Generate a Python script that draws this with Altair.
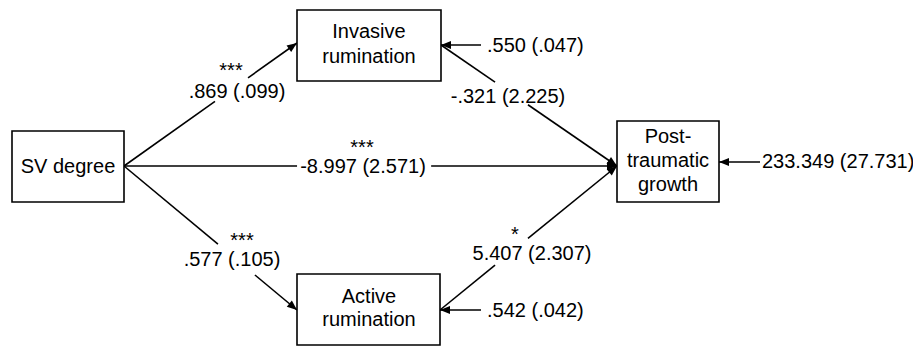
import math
import altair as alt
import pandas as pd

# ---- Boxes (pixel positions measured on the reference picture) ----
box_names = ["SV degree", "Invasive rumination", "Active rumination", "Post-traumatic growth"]
box_x1 = [12, 297, 297, 617]
box_x2 = [124, 441, 440, 719]
box_y1 = [131, 10, 274, 121]
box_y2 = [202, 81, 345, 202]

# Box label lines
label_text = ["SV degree", "Invasive", "rumination", "Active", "rumination", "Post-", "traumatic", "growth"]
label_x = [68, 369, 369, 369, 369, 668, 668, 668]
label_base = [173, 38, 63, 303, 326, 143, 167, 191]

# ---- Paths (arrows) ----
path_x1 = [124, 124, 124, 441, 440, 481, 481, 760]
path_y1 = [166, 166, 166, 45, 310, 45, 310, 162]
path_x2 = [297, 617, 297, 617, 617, 441, 440, 719]
path_y2 = [43, 166, 310, 166, 166, 45, 310, 162]
gap_from = [0.526, 0.351, 0.543, 0.307, 0.311, 1.0, 1.0, 1.0]
gap_to = [0.717, 0.623, 0.757, 0.494, 0.497, 1.0, 1.0, 1.0]

# ---- Coefficient labels ----
coef_text = ["***", ".869 (.099)", "***", "-8.997 (2.571)", "***", ".577 (.105)",
             "-.321 (2.225)", "*", "5.407 (2.307)"]
coef_x = [231, 237, 362, 363, 242, 232, 508, 515, 532]
coef_base = [77, 98, 154, 173, 247, 266, 103, 241, 260]

resid_text = [".550 (.047)", ".542 (.042)", "233.349 (27.731)"]
resid_x = [487, 487, 762]
resid_base = [52, 317, 168]

# ---- Build tables ----
boxes = pd.DataFrame({"name": box_names, "x1": box_x1, "x2": box_x2, "y1": box_y1, "y2": box_y2})

segs = []
heads = []
for x1, y1, x2, y2, g1, g2 in zip(path_x1, path_y1, path_x2, path_y2, gap_from, gap_to):
    dx, dy = x2 - x1, y2 - y1
    segs.append({"x": x1, "y": y1, "x2": x1 + dx * g1, "y2": y1 + dy * g1})
    if g2 < 1.0:
        segs.append({"x": x1 + dx * g2, "y": y1 + dy * g2, "x2": x2, "y2": y2})
    ang = math.degrees(math.atan2(dy, dx)) % 360
    heads.append({"x": x2, "y": y2, "angle": ang})
segs = pd.DataFrame(segs)
heads = pd.DataFrame(heads)

labels = pd.DataFrame({"t": label_text, "x": label_x, "y": label_base})
coefs = pd.DataFrame({"t": coef_text, "x": coef_x, "y": coef_base})
resids = pd.DataFrame({"t": resid_text, "x": resid_x, "y": resid_base})

xs = alt.Scale(domain=[8, 913], nice=False, zero=False)
ys = alt.Scale(domain=[8, 338], nice=False, zero=False, reverse=True)

FONT = "Liberation Sans"

rects = alt.Chart(boxes).mark_rect(fill="white", stroke="black", strokeWidth=1.6).encode(
    x=alt.X("x1:Q", scale=xs, axis=None), x2="x2:Q",
    y=alt.Y("y1:Q", scale=ys, axis=None), y2="y2:Q",
)

lines = alt.Chart(segs).mark_rule(color="black", strokeWidth=1.6).encode(
    x=alt.X("x:Q", scale=xs, axis=None), x2="x2:Q",
    y=alt.Y("y:Q", scale=ys, axis=None), y2="y2:Q",
)

arrow = alt.Chart(heads).mark_point(
    shape="M0,0L-1,-0.4L-1,0.4Z", filled=True, color="black", opacity=1, size=400, strokeWidth=0
).encode(
    x=alt.X("x:Q", scale=xs, axis=None),
    y=alt.Y("y:Q", scale=ys, axis=None),
    angle=alt.Angle("angle:Q", scale=None),
)

def text_layer(df, align):
    return alt.Chart(df).mark_text(
        font=FONT, fontSize=20, color="black", align=align, baseline="alphabetic"
    ).encode(
        x=alt.X("x:Q", scale=xs, axis=None),
        y=alt.Y("y:Q", scale=ys, axis=None),
        text="t:N",
    )

chart = alt.layer(
    lines, arrow, rects,
    text_layer(labels, "center"),
    text_layer(coefs, "center"),
    text_layer(resids, "left"),
).properties(
    width=905, height=330,
    padding={"left": 0, "top": 0, "right": 0, "bottom": 8},
    autosize=alt.AutoSizeParams(type="none"),
    background="white",
).configure_view(stroke=None)

chart.save("out.html", embed_options={"renderer": "svg", "actions": False})
